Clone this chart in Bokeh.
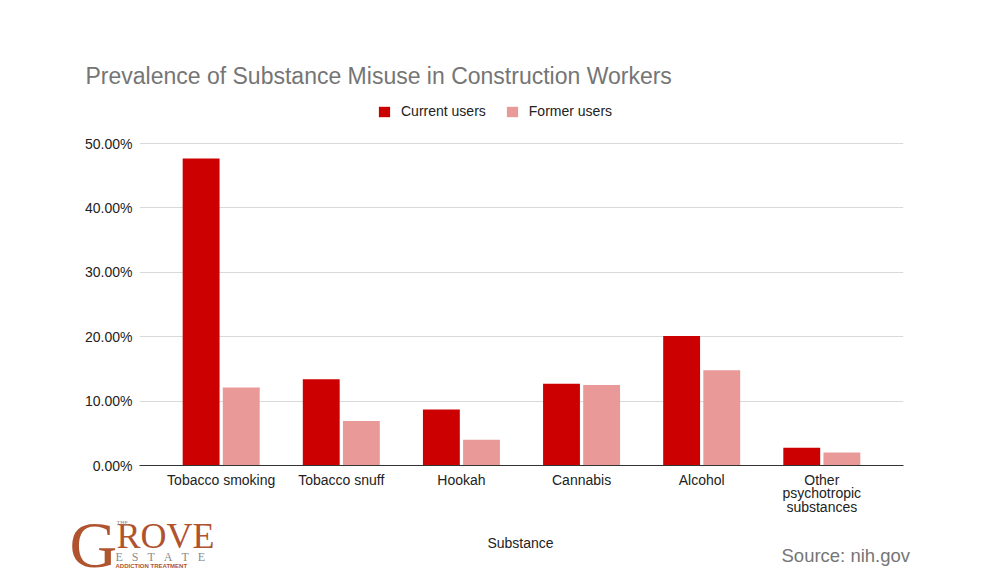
from bokeh.plotting import figure
from bokeh.layouts import column, row
from bokeh.models import (ColumnDataSource, FactorRange, Range1d, PrintfTickFormatter,
                          Legend, LegendItem, Label)
from bokeh.transform import dodge
from bokeh.embed import file_html
from bokeh.resources import INLINE

categories = ["Tobacco smoking", "Tobacco snuff", "Hookah", "Cannabis", "Alcohol",
              "Other\npsychotropic\nsubstances"]
current_users = [47.7, 13.4, 8.7, 12.7, 20.1, 2.75]
former_users = [12.1, 6.9, 4.0, 12.5, 14.8, 2.0]
y_ticks = [0, 10, 20, 30, 40, 50]

FONT = "Liberation Sans"
SERIF = "Liberation Serif"
GRAY = "#757575"

src = ColumnDataSource(dict(cat=categories, cur=current_users, form=former_users))

# ---------------- main chart ----------------
H1 = 518
p = figure(width=1000, height=H1, x_range=FactorRange(*categories, range_padding=0.06),
           y_range=Range1d(0, 57), output_backend="svg", toolbar_location=None,
           min_border_left=139, min_border_right=97, min_border_top=98, min_border_bottom=53)
p.outline_line_color = None

p.title.text = "Prevalence of Substance Misuse in Construction Workers"
p.title.text_font = FONT
p.title.text_font_size = "23px"
p.title.text_font_style = "normal"
p.title.text_color = GRAY
p.title.align = "left"
p.title.offset = -54
p.title.standoff = 20

r1 = p.vbar(x=dodge("cat", -0.167, range=p.x_range), top="cur", width=0.307, source=src,
            fill_color="#cc0000", line_color=None)
r2 = p.vbar(x=dodge("cat", 0.167, range=p.x_range), top="form", width=0.307, source=src,
            fill_color="#ea9999", line_color=None)

p.yaxis.ticker = y_ticks
p.yaxis.formatter = PrintfTickFormatter(format="%.2f%%")
p.yaxis.axis_line_color = None
p.yaxis.major_tick_line_color = None
p.yaxis.minor_tick_line_color = None
p.yaxis.major_label_text_font = FONT
p.yaxis.major_label_text_font_size = "14px"
p.yaxis.major_label_text_color = "#222222"
p.yaxis.major_label_standoff = 1

p.xaxis.axis_line_color = "#333333"
p.xaxis.major_tick_line_color = None
p.xaxis.minor_tick_line_color = None
p.xaxis.major_label_text_font = FONT
p.xaxis.major_label_text_font_size = "14px"
p.xaxis.major_label_text_color = "#222222"
p.xaxis.major_label_text_line_height = 0.85
p.xaxis.major_label_standoff = 0

p.xgrid.grid_line_color = None
p.ygrid.grid_line_color = "#d9d9d9"

legend = Legend(items=[LegendItem(label="Current users", renderers=[r1]),
                       LegendItem(label="Former users", renderers=[r2])],
                orientation="horizontal", location=(238, 346),
                glyph_width=14, glyph_height=13, label_standoff=10, spacing=19,
                label_text_font=FONT, label_text_font_size="14px", label_text_color="#222222",
                border_line_color=None, background_fill_alpha=0, padding=0, margin=0)
p.add_layout(legend, "center")

# ---------------- bottom strip: axis title, logo, source ----------------
H2 = 575 - H1
s = figure(width=1000, height=H2, x_range=Range1d(0, 1000), y_range=Range1d(575, H1),
           output_backend="svg", toolbar_location=None, x_axis_type=None, y_axis_type=None,
           min_border=0)
s.outline_line_color = None
s.grid.grid_line_color = None

for fig in (p, s):
    if "frame_align" in fig.properties():
        fig.frame_align = False

def L(x, y, text, **kw):
    s.add_layout(Label(x=x, y=y, text=text, text_baseline="middle", **kw))

L(520, 542, "Substance", text_font=FONT, text_font_size="14px", text_color="#222222",
  text_align="center")
L(781, 555, "Source: nih.gov", text_font=FONT, text_font_size="18.5px", text_color=GRAY)

LOGO = "#b0532f"
LOGO_GRAY = "#8c8c8c"
sep = "\u2002\u00a0"
L(69, 544, "G", text_font=SERIF, text_font_size="66px", text_color=LOGO)
L(116, 535, "ROVE", text_font=SERIF, text_font_size="36px", text_color=LOGO)
L(116, 522, "THE", text_font=SERIF, text_font_size="6px", text_color=LOGO_GRAY)
L(115, 556, sep.join("ESTATE"), text_font=SERIF, text_font_size="12px", text_color=LOGO_GRAY)
L(115, 565, "ADDICTION TREATMENT", text_font=FONT, text_font_size="6px",
  text_font_style="bold", text_color=LOGO)

open("out.html", "w").write(file_html(column(p, row(s), spacing=0), INLINE))
